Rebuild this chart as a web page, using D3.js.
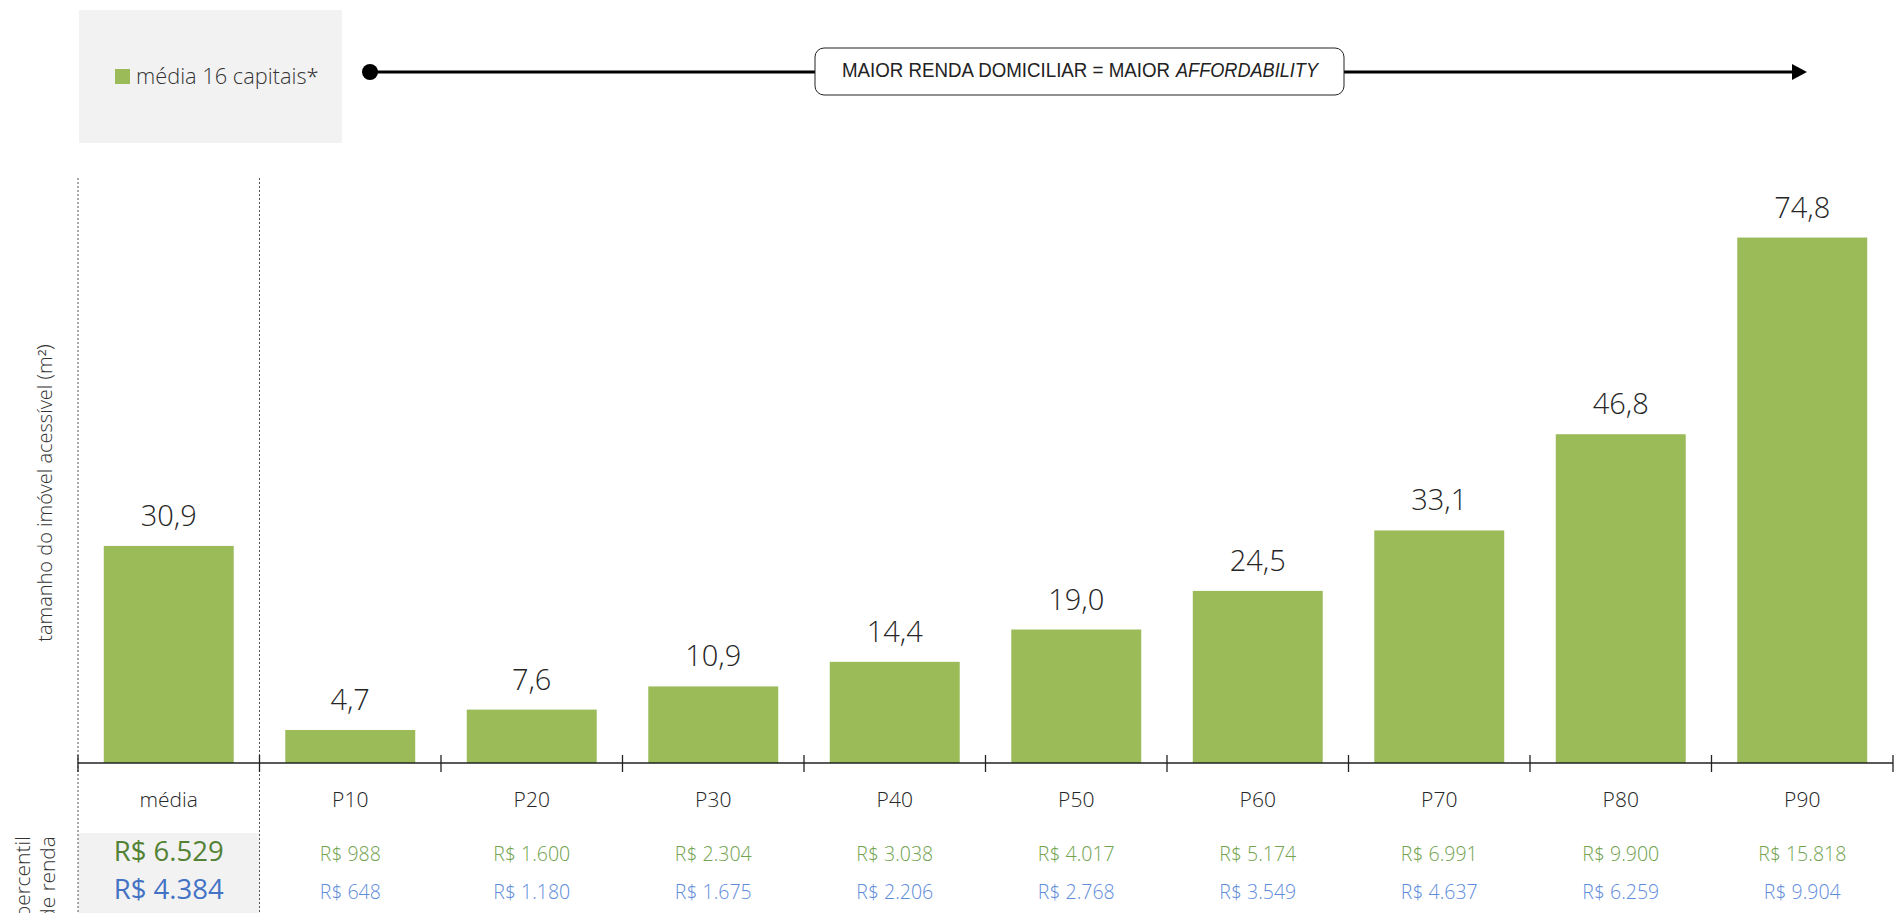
<!DOCTYPE html>
<html>
<head>
<meta charset="utf-8">
<script src="https://cdn.jsdelivr.net/npm/d3@7"></script>
<style>
  html, body { margin: 0; padding: 0; background: #fff; }
  svg { display: block; font-family: 'Segoe UI Light', 'Open Sans Light', 'Open Sans', 'Noto Sans', sans-serif; }
</style>
</head>
<body>
<main></main>
<script>
// chart data
const categories = ['média', 'P10', 'P20', 'P30', 'P40', 'P50', 'P60', 'P70', 'P80', 'P90'];
const sizeM2 = [30.9, 4.7, 7.6, 10.9, 14.4, 19.0, 24.5, 33.1, 46.8, 74.8];
const incomeGreen = [6529, 988, 1600, 2304, 3038, 4017, 5174, 6991, 9900, 15818];
const incomeBlue = [4384, 648, 1180, 1675, 2206, 2768, 3549, 4637, 6259, 9904];
const legendLabel = 'média 16 capitais*';

const WIDTH = 1894;
const HEIGHT = 913;

const ptBR = d3.formatLocale({ decimal: ',', thousands: '.', grouping: [3], currency: ['R$ ', ''] });
const fmtVal = ptBR.format('.1f');
const fmtMoney = ptBR.format('$,.0f');

const svg = d3.select('main')
  .append('svg')
  .attr('width', WIDTH)
  .attr('height', HEIGHT);

const baseY = 763;

const x = d3.scaleBand()
  .domain(categories)
  .range([78, 1893])
  .paddingInner(0.284)
  .paddingOuter(0.142);

const y = d3.scaleLinear()
  .domain([0, 80])
  .range([baseY, baseY - 80 * 7.025]);

// grey box behind the média incomes
svg.append('rect')
  .attr('x', 78).attr('y', 833)
  .attr('width', x.step()).attr('height', HEIGHT - 833)
  .attr('fill', '#f2f2f2');

// dotted separators round the média column
[78, 78 + x.step()].forEach(d => {
  svg.append('line')
    .attr('x1', d).attr('x2', d)
    .attr('y1', 178).attr('y2', HEIGHT)
    .attr('stroke', '#555')
    .attr('stroke-width', 1)
    .attr('stroke-dasharray', '2,2');
});

// bars
svg.append('g')
  .selectAll('rect')
  .data(categories)
  .enter()
  .append('rect')
  .attr('x', d => x(d))
  .attr('y', (d, i) => y(sizeM2[i]))
  .attr('width', x.bandwidth())
  .attr('height', (d, i) => baseY - y(sizeM2[i]))
  .attr('fill', '#9bbb59');

// value labels
svg.append('g')
  .selectAll('text')
  .data(categories)
  .enter()
  .append('text')
  .attr('x', d => x(d) + x.bandwidth() / 2)
  .attr('y', (d, i) => y(sizeM2[i]) - 20)
  .attr('text-anchor', 'middle')
  .attr('font-size', 29)
  .attr('font-weight', 300)
  .attr('fill', '#262626')
  .text((d, i) => fmtVal(sizeM2[i]));

// axis line + ticks at band boundaries
svg.append('line')
  .attr('x1', 78).attr('x2', 1893)
  .attr('y1', baseY).attr('y2', baseY)
  .attr('stroke', '#222').attr('stroke-width', 1.3);

svg.append('g')
  .selectAll('line')
  .data(d3.range(categories.length + 1))
  .enter()
  .append('line')
  .attr('x1', i => 78 + i * x.step())
  .attr('x2', i => 78 + i * x.step())
  .attr('y1', baseY - 8).attr('y2', baseY + 9)
  .attr('stroke', '#222').attr('stroke-width', 1.3);

// category labels
svg.append('g')
  .selectAll('text')
  .data(categories)
  .enter()
  .append('text')
  .attr('x', d => x(d) + x.bandwidth() / 2)
  .attr('y', 807)
  .attr('text-anchor', 'middle')
  .attr('font-size', 21)
  .attr('font-weight', 300)
  .attr('fill', '#262626')
  .text(d => d);

// income rows (first column bigger and in regular weight)
const incomeRow = (vals, yy, col, colMain) => {
  svg.append('g')
    .selectAll('text')
    .data(categories)
    .enter()
    .append('text')
    .attr('x', d => x(d) + x.bandwidth() / 2)
    .attr('y', yy)
    .attr('text-anchor', 'middle')
    .attr('font-family', (d, i) => i === 0 ? "'Open Sans', 'Noto Sans', sans-serif" : null)
    .attr('font-size', (d, i) => i === 0 ? 27.5 : 19.5)
    .attr('font-weight', (d, i) => i === 0 ? 400 : 300)
    .attr('fill', (d, i) => i === 0 ? colMain : col)
    .text((d, i) => fmtMoney(vals[i]));
};
incomeRow(incomeGreen, 861, '#72a34f', '#548235');
incomeRow(incomeBlue, 899, '#5f8ddb', '#4472c4');

// y axis title
svg.append('text')
  .attr('transform', 'translate(52,493) rotate(-90)')
  .attr('text-anchor', 'middle')
  .attr('font-size', 20)
  .attr('font-weight', 300)
  .attr('fill', '#333')
  .text('tamanho do imóvel acessível (m²)');

// percentil de renda
const pr = svg.append('text')
  .attr('transform', 'translate(0,836) rotate(-90)')
  .attr('text-anchor', 'end')
  .attr('font-size', 21)
  .attr('font-weight', 300)
  .attr('fill', '#333');
pr.append('tspan').attr('x', 0).attr('y', 30).text('percentil');
pr.append('tspan').attr('x', 0).attr('y', 55).text('de renda');

// legend box
svg.append('rect')
  .attr('x', 79).attr('y', 10)
  .attr('width', 263).attr('height', 133)
  .attr('fill', '#f2f2f2');
svg.append('rect')
  .attr('x', 115).attr('y', 69)
  .attr('width', 15).attr('height', 15)
  .attr('fill', '#9bbb59');
svg.append('text')
  .attr('x', 136).attr('y', 84)
  .attr('font-size', 21.8)
  .attr('font-weight', 300)
  .attr('fill', '#333')
  .text(legendLabel);

// arrow across the top
svg.append('line')
  .attr('x1', 370).attr('x2', 1794)
  .attr('y1', 72).attr('y2', 72)
  .attr('stroke', '#000').attr('stroke-width', 3);
svg.append('circle')
  .attr('cx', 370).attr('cy', 72).attr('r', 8)
  .attr('fill', '#000');
svg.append('path')
  .attr('d', 'M1792,64 L1807,72 L1792,80 Z')
  .attr('fill', '#000');

svg.append('rect')
  .attr('x', 815).attr('y', 48)
  .attr('width', 529).attr('height', 47)
  .attr('rx', 9)
  .attr('fill', '#fff')
  .attr('stroke', '#222').attr('stroke-width', 1);

const bannerFont = "'Liberation Sans Narrow', 'Arial Narrow', 'Liberation Sans', sans-serif";
svg.append('text')
  .attr('x', 842).attr('y', 77)
  .attr('textLength', 328)
  .attr('lengthAdjust', 'spacingAndGlyphs')
  .attr('font-family', bannerFont)
  .attr('font-size', 19.5)
  .attr('fill', '#222')
  .text('MAIOR RENDA DOMICILIAR = MAIOR');
svg.append('text')
  .attr('x', 1176).attr('y', 77)
  .attr('textLength', 142)
  .attr('lengthAdjust', 'spacingAndGlyphs')
  .attr('font-family', bannerFont)
  .attr('font-size', 19.5)
  .attr('font-style', 'italic')
  .attr('fill', '#222')
  .text('AFFORDABILITY');
</script>
</body>
</html>
